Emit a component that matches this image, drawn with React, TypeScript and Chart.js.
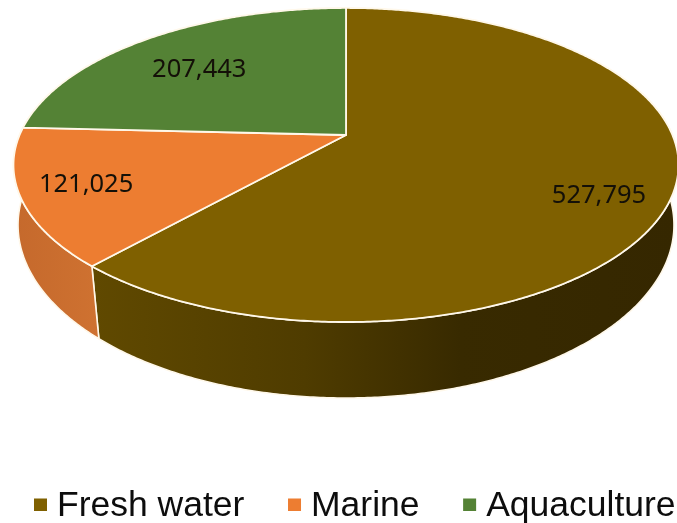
import React, { useEffect, useRef } from "react";
import { Chart, registerables } from "chart.js";

Chart.register(...registerables);

const categories = ["Fresh water", "Marine", "Aquaculture"];
const catchValues = [527795, 121025, 207443];
const topColors = ["#7f6000", "#ed7d31", "#548235"];
const wallStops: [number, string][][] = [
  [[0.14, "#604900"], [0.45, "#4f3c00"], [0.68, "#382a00"], [1, "#352700"]],
  [[0.02, "#c5692c"], [0.15, "#cf7231"]],
  [[0, "#3f6127"], [1, "#3f6127"]],
];
const labelPlacement = [
  { shift: 5.85, radial: 0.805 },
  { shift: 1, radial: 0.811 },
  { shift: -2, radial: 0.692 },
];

// Perspective view of the upper and lower faces of the disc
const topView = { cx: 346, cy: 135, a: 326.4, b: 151.3, k: 0.191 };
const bottomView = { cx: 346, cy: 195.6, a: 323.2, b: 168, k: 0.17 };

type View = typeof topView;
const project = (view: View, angle: number, r = 1) => {
  const u = Math.cos(angle) * r;
  const v = Math.sin(angle) * r;
  const w = 1 - view.k * v;
  return { x: view.cx + (view.a * u) / w, y: view.cy + (view.b * v) / w };
};

const norm = (a: number) => {
  let n = a;
  while (n < -Math.PI / 2 - 1e-6) n += Math.PI * 2;
  return n;
};

const pie3d = {
  id: "pie3d",
  beforeDatasetDraw(chart: any) {
    const ctx = chart.ctx as CanvasRenderingContext2D;
    const meta = chart.getDatasetMeta(0);
    const arcs = meta.data.map((arc: any) => ({
      start: norm(arc.startAngle),
      end: norm(arc.startAngle) + (arc.endAngle - arc.startAngle),
    }));
    const step = Math.PI / 360;
    const colors = chart.data.datasets[0].backgroundColor as string[];

    ctx.save();
    ctx.lineJoin = "round";
    // side walls
    arcs.forEach((arc: any, i: number) => {
      const from = Math.max(arc.start, -0.3);
      const to = Math.min(arc.end, Math.PI + 0.3);
      if (to <= from) return;
      const angles: number[] = [];
      for (let a = from; a < to; a += step) angles.push(a);
      angles.push(to);
      ctx.beginPath();
      angles.forEach((a, n) => {
        const p = project(topView, a);
        if (n) ctx.lineTo(p.x, p.y);
        else ctx.moveTo(p.x, p.y);
      });
      [...angles].reverse().forEach((a) => {
        const q = project(bottomView, a);
        ctx.lineTo(q.x, q.y);
      });
      ctx.closePath();
      const g = ctx.createLinearGradient(0, 0, chart.width, 0);
      wallStops[i].forEach(([o, c]) => g.addColorStop(o, c));
      ctx.fillStyle = g;
      ctx.fill();
      ctx.strokeStyle = "#fff8ea";
      ctx.lineWidth = 1.6;
      ctx.stroke();
    });
    // top faces
    arcs.forEach((arc: any, i: number) => {
      ctx.beginPath();
      const c = project(topView, 0, 0);
      ctx.moveTo(c.x, c.y);
      for (let a = arc.start; a < arc.end; a += step) {
        const p = project(topView, a);
        ctx.lineTo(p.x, p.y);
      }
      const e = project(topView, arc.end);
      ctx.lineTo(e.x, e.y);
      ctx.closePath();
      ctx.fillStyle = colors[i];
      ctx.fill();
      ctx.strokeStyle = "#fff8ea";
      ctx.lineWidth = 1.8;
      ctx.stroke();
    });
    ctx.restore();
    return false;
  },
  afterDatasetsDraw(chart: any) {
    const ctx = chart.ctx as CanvasRenderingContext2D;
    const meta = chart.getDatasetMeta(0);
    const values = chart.data.datasets[0].data as number[];
    ctx.save();
    ctx.font = '25.5px "Noto Sans"';
    ctx.fillStyle = "#141008";
    ctx.textAlign = "center";
    ctx.textBaseline = "middle";
    meta.data.forEach((arc: any, i: number) => {
      const mid = (arc.startAngle + arc.endAngle) / 2 + (labelPlacement[i].shift * Math.PI) / 180;
      const p = project(topView, mid, labelPlacement[i].radial);
      ctx.fillText(values[i].toLocaleString("en-US"), p.x + 1, p.y + 1.5);
    });
    ctx.restore();
  },
  afterDraw(chart: any) {
    const ctx = chart.ctx as CanvasRenderingContext2D;
    const colors = chart.data.datasets[0].backgroundColor as string[];
    ctx.save();
    ctx.font = '35.5px "Liberation Sans"';
    ctx.textBaseline = "alphabetic";
    ctx.textAlign = "left";
    let x = 34;
    const baseline = 515.5;
    (chart.data.labels as string[]).forEach((label, i) => {
      ctx.fillStyle = colors[i];
      ctx.fillRect(x, baseline - 17, 13, 12.5);
      ctx.fillStyle = "#0d0d0d";
      ctx.fillText(label, x + 23, baseline);
      x += 23 + ctx.measureText(label).width + 43.6;
    });
    ctx.restore();
  },
};

export default function App() {
  const ref = useRef<HTMLCanvasElement | null>(null);
  useEffect(() => {
    if (!ref.current) return;
    const chart = new Chart(ref.current, {
      type: "pie",
      data: {
        labels: categories,
        datasets: [{ data: catchValues, backgroundColor: topColors, borderWidth: 0 }],
      },
      options: {
        responsive: false,
        animation: false,
        plugins: { legend: { display: false }, tooltip: { enabled: false } },
      },
      plugins: [pie3d],
    } as any);
    return () => chart.destroy();
  }, []);
  return (
    <div style={{ position: "fixed", left: 0, top: 0, width: 677, height: 523, background: "#fff" }}>
      <canvas ref={ref} width={677} height={523} style={{ display: "block" }} />
    </div>
  );
}
